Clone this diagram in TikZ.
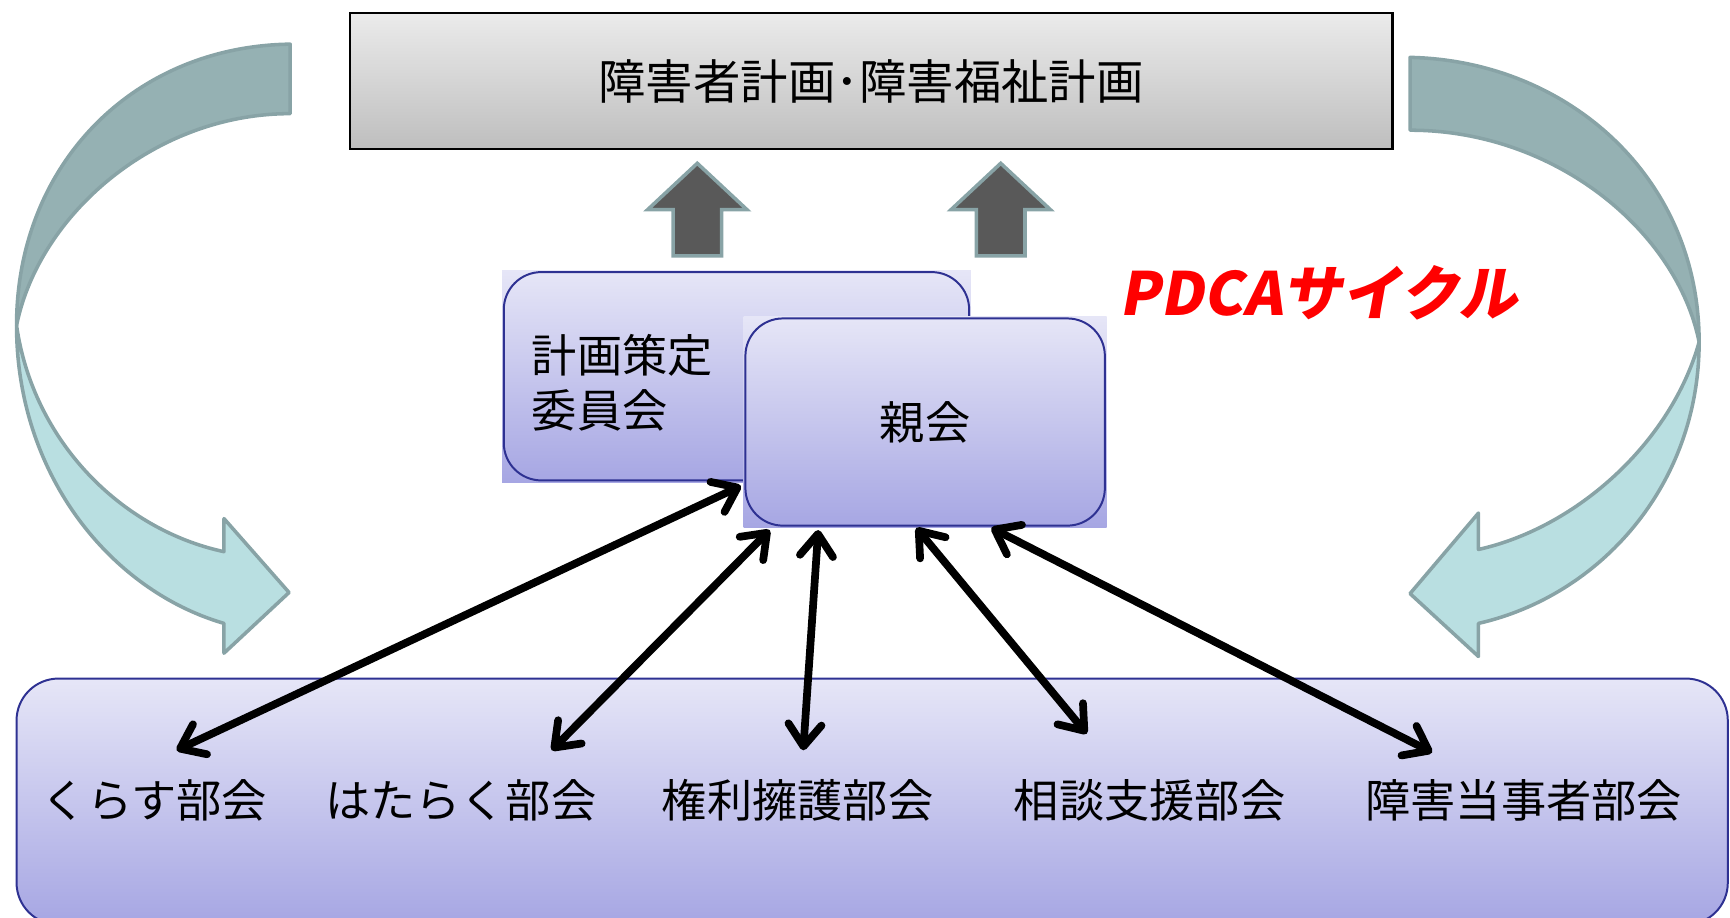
\documentclass[tikz,border=0pt]{standalone}
\usepackage{fontspec}
\newfontfamily\jpfont{Noto Sans CJK JP}
\newfontfamily\pdcafont[FakeSlant=0.18]{Noto Sans CJK JP}
\usetikzlibrary{arrows.meta}
\definecolor{darkband}{HTML}{95B1B3}
\definecolor{lightband}{HTML}{B9DFE1}
\definecolor{bandline}{HTML}{88A3A6}
\definecolor{boxline}{HTML}{2E3192}
\definecolor{lavtop}{HTML}{E6E6F7}
\definecolor{lavbot}{HTML}{A6A6E3}
\definecolor{graytop}{HTML}{EBEBEB}
\definecolor{graybot}{HTML}{BEBEBE}
\definecolor{upfill}{HTML}{595959}

\begin{document}
\begin{tikzpicture}[x=0.5pt, y=-0.5pt,
    jplabel/.style={font=\jpfont\fontsize{20.5}{25}\selectfont, inner sep=0pt},
    lavbox/.style={top color=lavtop, bottom color=lavbot, inner sep=0pt},
    boxborder/.style={draw=boxline, line width=0.9pt, rounded corners=17pt},
    band/.style={draw=bandline, line width=1.6pt, line join=round},
    link/.style={line width=3.5pt, {Straight Barb[length=10pt,width=15pt,round]}-{Straight Barb[length=10pt,width=15pt,round]}}]

    \useasboundingbox (0,0) rectangle (1568,832);

    % left cycle arrow
    \draw[band, fill=darkband] (263,40) .. controls (120,42) and (15,150) .. (15,295)
        .. controls (35,195) and (140,103) .. (263,103) -- cycle;
    \draw[band, fill=lightband] (15,295) .. controls (15,430) and (100,535) .. (203,565)
        -- (203,592) -- (262,537) -- (203,470) -- (203,500)
        .. controls (110,480) and (30,400) .. (15,295) -- cycle;

    % right cycle arrow
    \draw[band, fill=darkband] (1278,52) .. controls (1420,55) and (1540,160) .. (1540,310)
        .. controls (1520,210) and (1410,118) .. (1278,118) -- cycle;
    \draw[band, fill=lightband] (1540,310) .. controls (1540,440) and (1450,540) .. (1340,565)
        -- (1340,595) -- (1278,538) -- (1340,465) -- (1340,498)
        .. controls (1430,478) and (1515,400) .. (1540,310) -- cycle;

    % plan
    \node[draw=black, line width=1pt, top color=graytop, bottom color=graybot,
        minimum width=472.5pt, minimum height=61.5pt, jplabel, font=\jpfont\fontsize{21.5}{25}\selectfont] (plan) at (789.5,73.5)
        {障害者計画･障害福祉計画};

    % up arrows
    \foreach \cx in {632,907}
        \draw[draw=bandline, line width=1.6pt, fill=upfill]
            (\cx-22,232) -- (\cx-22,190) -- (\cx-45,190) -- (\cx,148)
            -- (\cx+45,190) -- (\cx+22,190) -- (\cx+22,232) -- cycle;

    % committee
    \node[lavbox, minimum width=212.5pt, minimum height=96pt] (keikakubox) at (667.5,341) {};
    \draw[boxborder] ([shift={(2,-2)}]keikakubox.south west) rectangle ([shift={(-2,2)}]keikakubox.north east);
    \node[jplabel, align=left, anchor=west] (keikaku) at ([shift={(27,6)}]keikakubox.west) {計画策定\\委員会};

    % parent
    \node[lavbox, minimum width=164.5pt, minimum height=95.5pt, jplabel] (oyabox) at (838.5,382.5) {親会};
    \draw[boxborder] ([shift={(2,-2)}]oyabox.south west) rectangle ([shift={(-2,2)}]oyabox.north east);

    \node[font=\pdcafont\bfseries\fontsize{27}{30}\selectfont, text=red, inner sep=0pt] (pdca) at (1195,265) {PDCAサイクル};

    % sections
    \node[draw=boxline, line width=0.9pt, rounded corners=19pt, top color=lavtop, bottom color=lavbot,
        minimum width=775.5pt, minimum height=111.5pt] (bukai) at (790.5,726.5) {};
    \node[jplabel] (kurasu) at (140,725) {くらす部会};
    \node[jplabel] (hataraku) at (418,725) {はたらく部会};
    \node[jplabel] (kenri) at (723,725) {権利擁護部会};
    \node[jplabel] (soudan) at (1042,725) {相談支援部会};
    \node[jplabel] (toujisha) at (1381,725) {障害当事者部会};

    \draw[link] ([shift={(20,-45)}]kurasu.center) -- ([shift={(-2,-38)}]oyabox.south west);
    \draw[link] ([shift={(82,-45)}]hataraku.center) -- ([shift={(24,2)}]oyabox.south west);
    \draw[link] ([shift={(5,-45)}]kenri.center) -- ([shift={(68,2)}]oyabox.south west);
    \draw[link] ([shift={(-57,-60)}]soudan.center) -- ([shift={(-8,0)}]oyabox.south);
    \draw[link] ([shift={(-83,-43)}]toujisha.center) -- ([shift={(60,0)}]oyabox.south);
\end{tikzpicture}
\end{document}
